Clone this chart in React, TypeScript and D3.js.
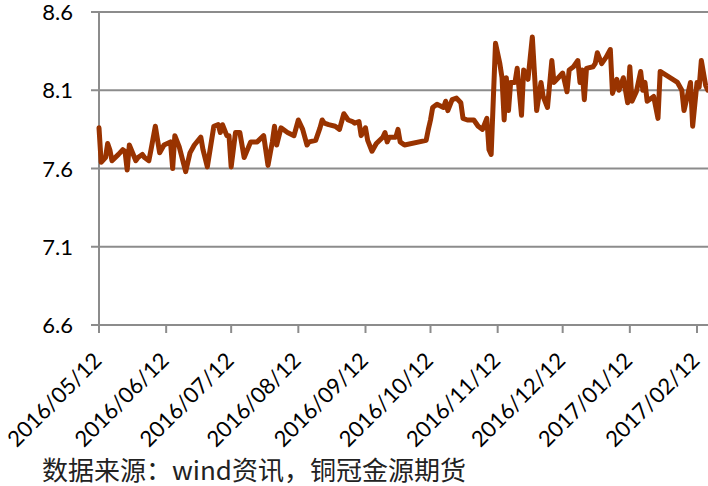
import React from "react";
import * as d3 from "d3";

const dates: string[] = [
  "2016-05-12","2016-05-13","2016-05-15","2016-05-16","2016-05-17","2016-05-18","2016-05-21","2016-05-23","2016-05-24","2016-05-25",
  "2016-05-26","2016-05-29","2016-05-30","2016-06-01","2016-06-02","2016-06-04","2016-06-05","2016-06-07","2016-06-09","2016-06-11",
  "2016-06-14","2016-06-15","2016-06-16","2016-06-18","2016-06-21","2016-06-23","2016-06-25","2016-06-28","2016-06-29","2016-07-01",
  "2016-07-04","2016-07-06","2016-07-07","2016-07-08","2016-07-10","2016-07-11","2016-07-12","2016-07-14","2016-07-16","2016-07-18",
  "2016-07-21","2016-07-24","2016-07-27","2016-07-29","2016-07-31","2016-08-01","2016-08-02","2016-08-04","2016-08-07","2016-08-10",
  "2016-08-12","2016-08-14","2016-08-16","2016-08-17","2016-08-20","2016-08-22","2016-08-23","2016-08-24","2016-08-26","2016-08-29",
  "2016-08-31","2016-09-02","2016-09-04","2016-09-06","2016-09-07","2016-09-09","2016-09-10","2016-09-12","2016-09-13","2016-09-15",
  "2016-09-17","2016-09-20","2016-09-21","2016-09-22","2016-09-23","2016-09-26","2016-09-27","2016-09-28","2016-09-30","2016-10-10",
  "2016-10-11","2016-10-12","2016-10-13","2016-10-15","2016-10-18","2016-10-19","2016-10-20","2016-10-22","2016-10-24","2016-10-26",
  "2016-10-27","2016-10-29","2016-11-01","2016-11-03","2016-11-05","2016-11-07","2016-11-08","2016-11-09","2016-11-11","2016-11-13",
  "2016-11-14","2016-11-15","2016-11-16","2016-11-17","2016-11-18","2016-11-20","2016-11-21","2016-11-23","2016-11-24","2016-11-26",
  "2016-11-28","2016-11-30","2016-12-02","2016-12-03","2016-12-05","2016-12-07","2016-12-08","2016-12-10","2016-12-12","2016-12-14",
  "2016-12-15","2016-12-17","2016-12-19","2016-12-20","2016-12-21","2016-12-22","2016-12-23","2016-12-26","2016-12-27","2016-12-28",
  "2016-12-30","2017-01-01","2017-01-03","2017-01-04","2017-01-06","2017-01-07","2017-01-09","2017-01-11","2017-01-12","2017-01-13",
  "2017-01-15","2017-01-17","2017-01-18","2017-01-19","2017-01-20","2017-01-23","2017-01-25","2017-01-26","2017-02-03","2017-02-05",
  "2017-02-06","2017-02-09","2017-02-10","2017-02-12","2017-02-13","2017-02-14","2017-02-16","2017-02-17",
];

const values: number[] = [
  7.86,7.64,7.67,7.76,7.72,7.65,7.69,7.72,7.71,7.59,
  7.75,7.65,7.67,7.69,7.67,7.65,7.72,7.87,7.70,7.75,
  7.77,7.60,7.81,7.74,7.58,7.70,7.75,7.80,7.72,7.61,
  7.87,7.88,7.83,7.88,7.81,7.81,7.61,7.83,7.83,7.67,
  7.77,7.77,7.81,7.62,7.77,7.87,7.75,7.86,7.83,7.81,
  7.91,7.85,7.75,7.77,7.78,7.86,7.91,7.89,7.88,7.87,
  7.85,7.95,7.91,7.90,7.89,7.90,7.81,7.86,7.78,7.71,
  7.76,7.80,7.83,7.77,7.80,7.80,7.85,7.77,7.75,7.78,
  7.85,7.91,7.99,8.01,7.99,8.03,7.97,8.04,8.05,8.02,
  7.92,7.91,7.91,7.87,7.85,7.92,7.72,7.69,8.40,8.27,
  8.18,7.91,8.18,7.97,8.15,8.15,8.24,7.94,8.23,8.17,
  8.44,7.97,8.15,8.06,7.99,8.29,8.15,8.18,8.21,8.09,
  8.23,8.25,8.29,8.15,8.23,8.04,8.24,8.25,8.27,8.34,
  8.27,8.31,8.36,8.08,8.17,8.10,8.18,8.02,8.25,8.03,
  8.09,8.22,8.10,8.15,8.03,8.06,7.92,8.22,8.15,8.10,
  7.97,8.15,7.87,8.15,8.12,8.29,8.13,8.10,
];

const yTicks: number[] = [6.6, 7.1, 7.6, 8.1, 8.6];
const xTickLabels: string[] = [
  "2016/05/12","2016/06/12","2016/07/12","2016/08/12","2016/09/12",
  "2016/10/12","2016/11/12","2016/12/12","2017/01/12","2017/02/12",
];
const sourceText = "数据来源：wind资讯，铜冠金源期货";

const W = 708;
const H = 486;
const parse = d3.utcParse("%Y-%m-%d");
const parseTick = d3.utcParse("%Y/%m/%d");

export default function App() {
  const x = d3
    .scaleUtc()
    .domain([parseTick(xTickLabels[0])!, parseTick(xTickLabels[xTickLabels.length - 1])!])
    .range([99, 697]);
  const y = d3.scaleLinear().domain([6.6, 8.6]).range([325, 12]);

  const data = dates.map((d, i) => ({ date: parse(d)!, value: values[i] }));
  const line = d3
    .line<{ date: Date; value: number }>()
    .x((d) => x(d.date))
    .y((d) => y(d.value));

  const grid = "#8c8c8c";
  const font = "Lato, 'Open Sans', sans-serif";

  return (
    <svg
      width={W}
      height={H}
      style={{ position: "absolute", left: 0, top: 0, display: "block", background: "#fff" }}
    >
      {yTicks.map((t) => (
        <g key={t}>
          <line x1={91} x2={W + 2} y1={y(t)} y2={y(t)} stroke={grid} strokeWidth={2} />
          <text
            x={73}
            y={y(t) + 8}
            textAnchor="end"
            fontFamily={font}
            fontSize={22}
            fill="#000"
          >
            {t.toFixed(1)}
          </text>
        </g>
      ))}
      <line x1={99} x2={99} y1={y(8.6)} y2={333} stroke={grid} strokeWidth={2} />
      {xTickLabels.map((l) => {
        const xx = x(parseTick(l)!);
        return (
          <g key={l}>
            <line x1={xx} x2={xx} y1={325} y2={333} stroke={grid} strokeWidth={2} />
            <text
              transform={`translate(${xx + 4},${362}) rotate(-45)`}
              textAnchor="end"
              fontFamily={font}
              fontSize={22}
              fill="#000"
            >
              {l}
            </text>
          </g>
        );
      })}
      <path
        d={line(data) ?? ""}
        fill="none"
        stroke="#993300"
        strokeWidth={5}
        strokeLinejoin="round"
        strokeLinecap="round"
      />
      <text
        x={42}
        y={480}
        fontFamily="'Noto Sans CJK SC', sans-serif"
        fontSize={26}
        fill="#222"
      >
        {sourceText}
      </text>
    </svg>
  );
}
